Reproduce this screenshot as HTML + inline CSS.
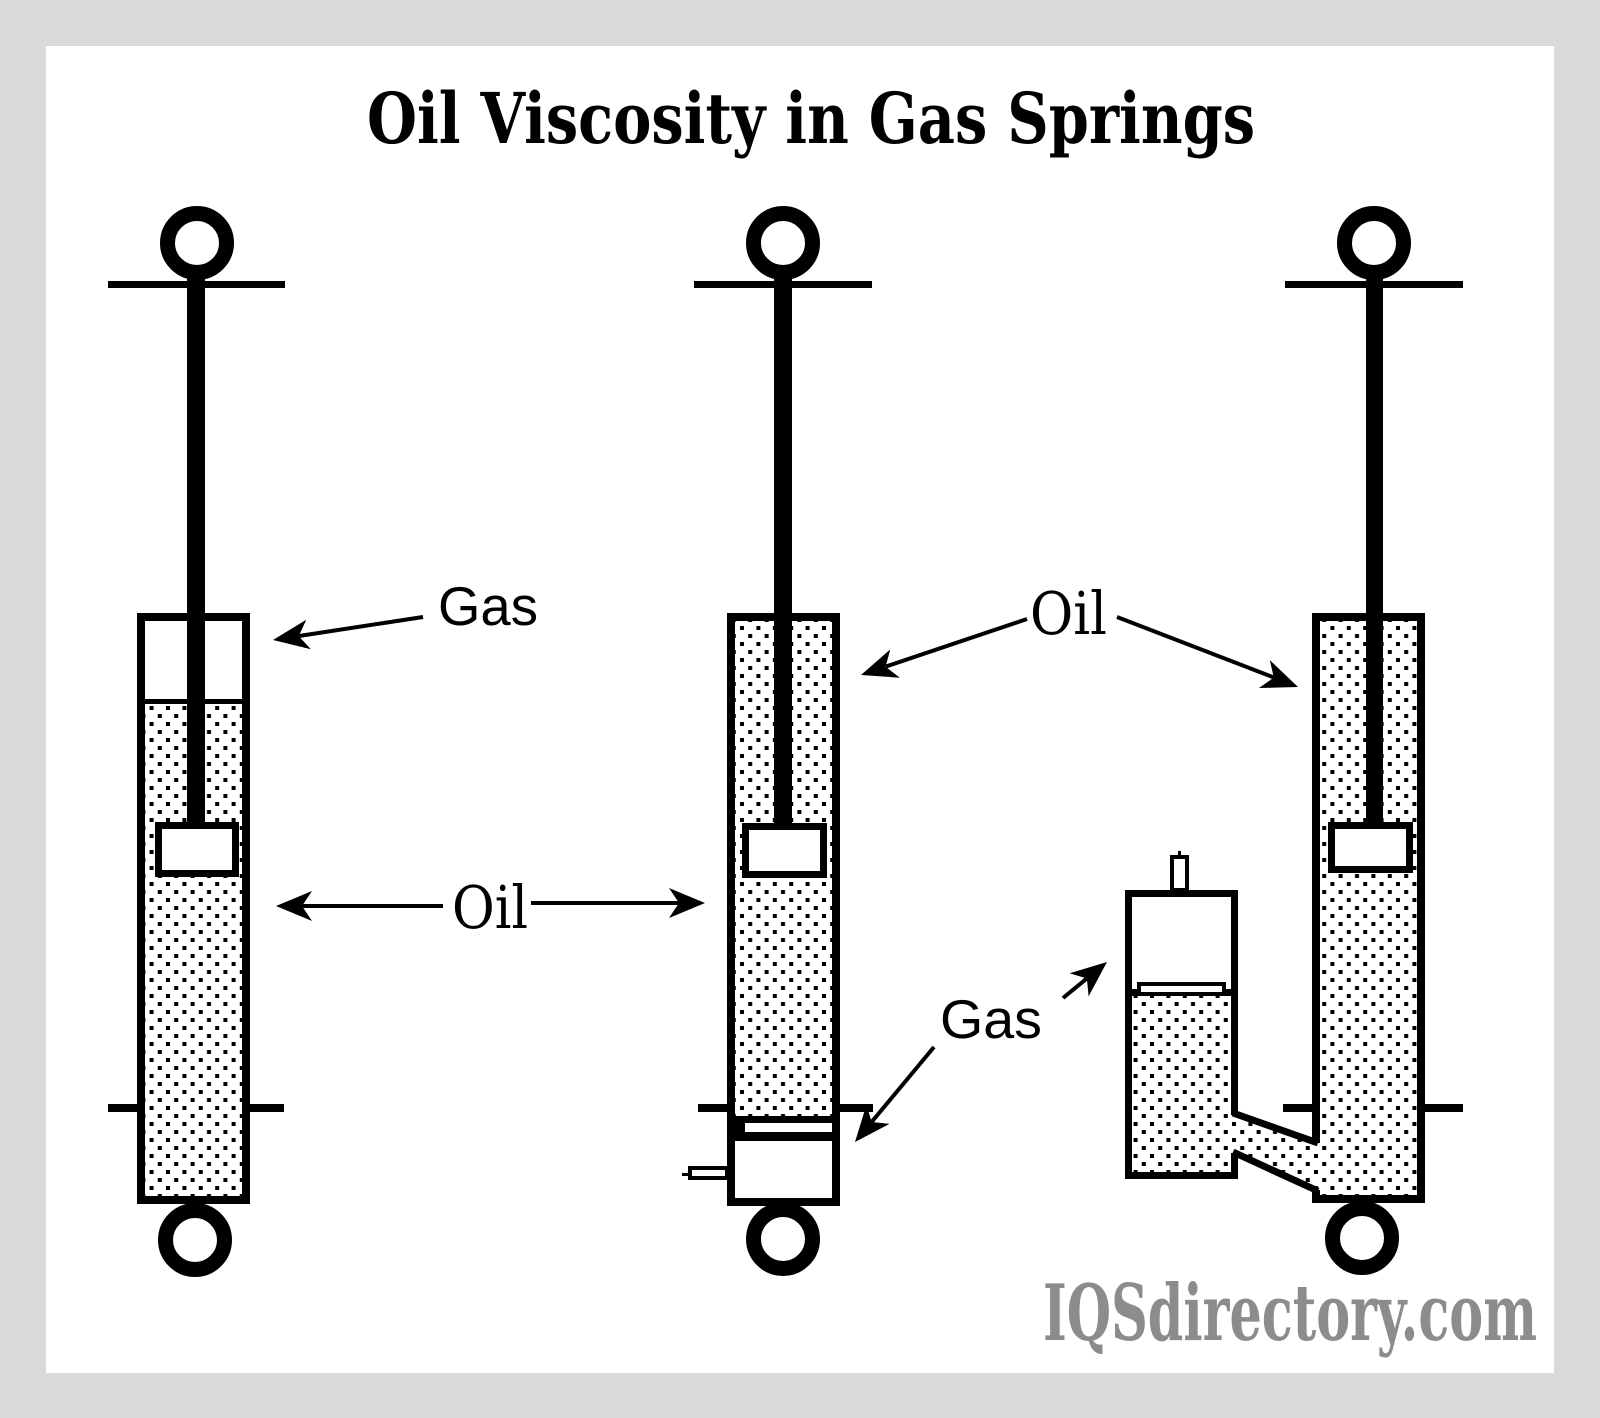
<!DOCTYPE html>
<html>
<head>
<meta charset="utf-8">
<style>
html,body{margin:0;padding:0;background:#d9d9d9;}
svg{display:block;}
</style>
</head>
<body>
<svg width="1600" height="1418" viewBox="0 0 1600 1418" xmlns="http://www.w3.org/2000/svg">
  <defs>
    <pattern id="dots" x="0" y="0" width="16.4" height="16" patternUnits="userSpaceOnUse">
      <rect x="2" y="2" width="4" height="4" fill="#000"/>
      <rect x="10.2" y="10" width="4" height="4" fill="#000"/>
    </pattern>
  </defs>

  <!-- background frame -->
  <rect x="0" y="0" width="1600" height="1418" fill="#d9d9d9"/>
  <rect x="46" y="46" width="1508" height="1327" fill="#ffffff"/>

  <!-- Title -->
  <text x="367" y="143" font-family="'DejaVu Serif','Liberation Serif',serif" font-weight="bold" font-size="70" textLength="888" lengthAdjust="spacingAndGlyphs" fill="#000">Oil Viscosity in Gas Springs</text>

  <!-- ================= LEFT SPRING ================= -->
  <rect x="108" y="281" width="177" height="7" fill="#000"/>
  <rect x="108" y="1104" width="176" height="8" fill="#000"/>
  <rect x="187" y="243" width="18" height="380" fill="#000"/>
  <!-- cylinder -->
  <rect x="141" y="617" width="105" height="583" fill="#fff" stroke="#000" stroke-width="8"/>
  <rect x="145" y="704" width="97" height="492" fill="url(#dots)"/>
  <rect x="145" y="699" width="97" height="5" fill="#000"/>
  <rect x="187" y="613" width="18" height="212" fill="#000"/>
  <rect x="158.5" y="825.5" width="77" height="48" fill="#fff" stroke="#000" stroke-width="7"/>
  <circle cx="197" cy="243" r="29.5" fill="#fff" stroke="#000" stroke-width="15"/>
  <circle cx="195" cy="1240" r="29.5" fill="#fff" stroke="#000" stroke-width="15"/>

  <!-- ================= MIDDLE SPRING ================= -->
  <rect x="694" y="281" width="178" height="7" fill="#000"/>
  <rect x="698" y="1104" width="175" height="8" fill="#000"/>
  <rect x="774" y="243" width="18" height="380" fill="#000"/>
  <rect x="731" y="617" width="105" height="585" fill="#fff" stroke="#000" stroke-width="8"/>
  <rect x="735" y="621" width="97" height="496" fill="url(#dots)"/>
  <rect x="774" y="613" width="18" height="212" fill="#000"/>
  <rect x="745.5" y="826.5" width="78" height="48" fill="#fff" stroke="#000" stroke-width="7"/>
  <!-- separator -->
  <rect x="735" y="1116" width="98" height="25" fill="#000"/>
  <rect x="745" y="1123" width="87" height="9" fill="#fff"/>
  <!-- valve -->
  <rect x="690" y="1168" width="37" height="10" fill="#fff" stroke="#000" stroke-width="4"/>
  <rect x="682" y="1173" width="7" height="3" fill="#000"/>
  <circle cx="783" cy="243" r="29.5" fill="#fff" stroke="#000" stroke-width="15"/>
  <circle cx="783" cy="1239" r="29.5" fill="#fff" stroke="#000" stroke-width="15"/>

  <!-- ================= RIGHT SPRING ================= -->
  <rect x="1285" y="281" width="178" height="7" fill="#000"/>
  <rect x="1283" y="1104" width="180" height="8" fill="#000"/>
  <rect x="1366" y="243" width="17" height="380" fill="#000"/>
  <!-- oil fills -->
  <rect x="1320" y="621" width="97" height="574" fill="#fff"/>
  <rect x="1320" y="621" width="97" height="574" fill="url(#dots)"/>
  <polygon points="1228,1113 1322,1145 1322,1192 1228,1155" fill="#fff"/>
  <polygon points="1228,1113 1322,1145 1322,1192 1228,1155" fill="url(#dots)"/>
  <rect x="1132" y="897" width="99" height="275" fill="#fff"/>
  <rect x="1132" y="996" width="99" height="176" fill="url(#dots)"/>
  <!-- main cylinder walls -->
  <path d="M1316,1143 V617 H1421 V1199 H1316 V1190" fill="none" stroke="#000" stroke-width="8" stroke-linejoin="miter"/>
  <!-- side cylinder walls -->
  <path d="M1234.5,1115 V893.5 H1128.5 V1175.5 H1234.5 V1153" fill="none" stroke="#000" stroke-width="7" stroke-linejoin="miter"/>
  <!-- passage -->
  <line x1="1233" y1="1113" x2="1318" y2="1143" stroke="#000" stroke-width="7"/>
  <line x1="1233" y1="1152" x2="1318" y2="1191" stroke="#000" stroke-width="7"/>
  <!-- side separator -->
  <rect x="1132" y="989" width="99" height="7" fill="#000"/>
  <rect x="1139" y="984" width="85" height="10" fill="#fff" stroke="#000" stroke-width="4"/>
  <!-- side valve -->
  <rect x="1172" y="857" width="15" height="33" fill="#fff" stroke="#000" stroke-width="4"/>
  <rect x="1178" y="851" width="3" height="5" fill="#000"/>
  <!-- rod & piston -->
  <rect x="1366" y="613" width="17" height="212" fill="#000"/>
  <rect x="1331.5" y="825.5" width="78" height="44" fill="#fff" stroke="#000" stroke-width="7"/>
  <circle cx="1374" cy="243" r="29.5" fill="#fff" stroke="#000" stroke-width="15"/>
  <circle cx="1362" cy="1238" r="29.5" fill="#fff" stroke="#000" stroke-width="15"/>

  <!-- ================= LABELS & ARROWS ================= -->
  <!-- Gas (left) -->
  <text x="438" y="625" font-family="'Liberation Sans',sans-serif" font-size="55" textLength="100" lengthAdjust="spacingAndGlyphs" fill="#000">Gas</text>
  <line x1="423" y1="617" x2="299" y2="636" stroke="#000" stroke-width="4"/>
  <polygon points="273,640 310.9,649.3 298.7,636.1 306.3,619.7" fill="#000"/>

  <!-- Oil (middle) -->
  <text x="452" y="928" font-family="'DejaVu Serif','Liberation Serif',serif" font-size="59" textLength="76" lengthAdjust="spacingAndGlyphs" fill="#000">Oil</text>
  <line x1="443" y1="906" x2="300" y2="906" stroke="#000" stroke-width="4"/>
  <polygon points="276,906 312,921 302,906 312,891" fill="#000"/>
  <line x1="531" y1="903" x2="681" y2="903" stroke="#000" stroke-width="4"/>
  <polygon points="705,903 669,918 679,903 669,888" fill="#000"/>

  <!-- Oil (top right) -->
  <text x="1030" y="634" font-family="'DejaVu Serif','Liberation Serif',serif" font-size="59" textLength="77" lengthAdjust="spacingAndGlyphs" fill="#000">Oil</text>
  <line x1="1027" y1="619" x2="886" y2="666.5" stroke="#000" stroke-width="4"/>
  <polygon points="861,675 899.9,677.7 885.6,666.7 890.3,649.3" fill="#000"/>
  <line x1="1117" y1="617" x2="1274" y2="677.5" stroke="#000" stroke-width="4"/>
  <polygon points="1298,687 1269.8,660 1273.8,677.6 1259,688" fill="#000"/>

  <!-- Gas (bottom) -->
  <text x="940" y="1038" font-family="'Liberation Sans',sans-serif" font-size="55" textLength="102" lengthAdjust="spacingAndGlyphs" fill="#000">Gas</text>
  <line x1="934" y1="1047" x2="871.8" y2="1121.8" stroke="#000" stroke-width="4"/>
  <polygon points="855,1142 889.5,1123.9 871.6,1122 866.5,1104.7" fill="#000"/>
  <line x1="1063" y1="998" x2="1086.7" y2="978.6" stroke="#000" stroke-width="4"/>
  <polygon points="1107,962 1088.6,996.4 1086.9,978.5 1069.6,973.2" fill="#000"/>

  <!-- Logo -->
  <text x="1043" y="1340" font-family="'DejaVu Serif','Liberation Serif',serif" font-weight="bold" font-size="78" textLength="494" lengthAdjust="spacingAndGlyphs" fill="#8c8c8c">IQSdirectory.com</text>
</svg>
</body>
</html>
